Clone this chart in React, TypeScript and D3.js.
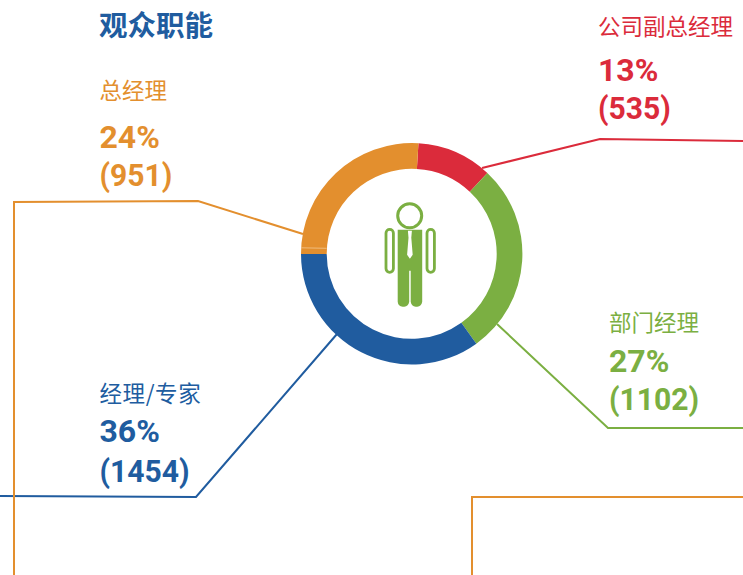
import React from "react";
import * as d3 from "d3";

const categories = ["公司副总经理", "部门经理", "经理/专家", "总经理"];
const percentLabels = ["13%", "27%", "36%", "24%"];
const countLabels = ["(535)", "(1102)", "(1454)", "(951)"];
const arcShares = [11, 28.1, 34.9, 26];
const colors = ["#DB2B3B", "#7BAF42", "#205C9F", "#E38F2E"];

const W = 743, H = 575, CX = 411.7, CY = 253.8, R0 = 85, R1 = 110.7;
const START = (3.5 * Math.PI) / 180;

const labelPos = [
  { x: 598, cat: 35, pct: 81, cnt: 119, spacing: 0 },
  { x: 609, cat: 331, pct: 372, cnt: 410, spacing: 0 },
  { x: 99.5, cat: 402, pct: 442, cnt: 482, spacing: 0.6 },
  { x: 99.5, cat: 99, pct: 148, cnt: 186, spacing: 0 },
];
const leaders = [
  [[482, 168], [600, 139], [743, 141]],
  [[497, 324], [608, 428], [743, 428]],
  [[337, 334], [196, 497], [0, 496]],
  [[303, 234], [198, 201], [14, 202], [14, 575]],
];
const extraLine = [[743, 497], [472, 497], [472, 575]];

const NUM = "'Roboto', 'Noto Sans', sans-serif";
const CJK = "'Noto Sans CJK SC', sans-serif";

export default function App() {
  const pie = d3.pie<number>().sort(null).startAngle(START).endAngle(START + 2 * Math.PI);
  const arc = d3.arc<d3.PieArcDatum<number>>().innerRadius(R0).outerRadius(R1);
  const line = d3.line();
  const green = colors[1];
  return (
    <svg width={W} height={H} style={{ position: "fixed", left: 0, top: 0, background: "#fff" }}>
      {leaders.map((l, i) => (
        <path key={i} d={line(l as [number, number][])!} fill="none" stroke={colors[i]} strokeWidth={2} />
      ))}
      <path d={line(extraLine as [number, number][])!} fill="none" stroke={colors[3]} strokeWidth={2} />
      <g transform={`translate(${CX},${CY})`}>
        {pie(arcShares).map((d, i) => (
          <path key={i} d={arc(d)!} fill={colors[i]} />
        ))}
        <path d={`M${-R1 + 0.3},-6 L${-R0},-5.5`} stroke="#F3C68F" strokeWidth={0.8} fill="none" />
        <g transform="translate(-412,-254)">
          <circle cx={410} cy={216} r={12} fill="none" stroke={green} strokeWidth={3} />
          <path
            d="M398 230 H422.5 V302 a6 6 0 0 1 -5 5 h-1.5 a6 6 0 0 1 -5 -5 V271 H409.5 V302 a6 6 0 0 1 -5 5 h-1.5 a5.5 5.5 0 0 1 -5 -5 Z"
            fill={green}
          />
          <path d="M408.2 231 H412.2 L411.6 238 L413 255 L410.2 259 L407.4 255 L408.8 238 Z" fill="#fff" />
          <rect x={386.3} y={229.5} width={7.4} height={43} rx={3.7} fill="none" stroke={green} strokeWidth={2.8} />
          <rect x={427.3} y={229.5} width={7.4} height={43} rx={3.7} fill="none" stroke={green} strokeWidth={2.8} />
        </g>
      </g>
      <text x={99} y={35.5} fontFamily={CJK} fontWeight={700} fontSize={28.5} fill={colors[2]}>观众职能</text>
      {categories.map((c, i) => {
        const p = labelPos[i];
        return (
          <g key={c} fill={colors[i]}>
            <text x={p.x} y={p.cat} fontFamily={CJK} fontSize={22.5} fontWeight={400} letterSpacing={p.spacing}>{c}</text>
            <text x={p.x} y={p.pct} fontFamily={NUM} fontWeight={700} fontSize={32}>{percentLabels[i]}</text>
            <text transform={`translate(${p.x},${p.cnt}) scale(0.94,1)`} fontFamily={NUM} fontWeight={700} fontSize={32}>{countLabels[i]}</text>
          </g>
        );
      })}
    </svg>
  );
}
